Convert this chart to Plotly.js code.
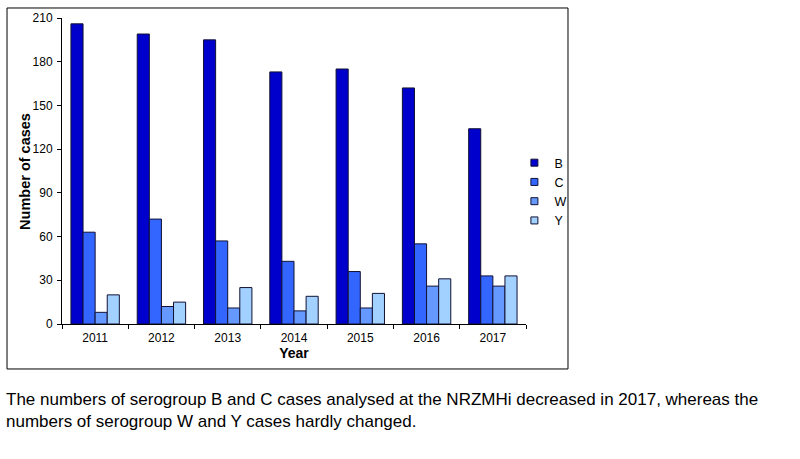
<!DOCTYPE html>
<html>
<head>
<meta charset="utf-8">
<script src="https://cdn.plot.ly/plotly-3.0.1.min.js"></script>
<style>html,body{margin:0;padding:0;background:#fff;}#chart{width:800px;height:459px;}</style>
</head>
<body>
<div id="chart"></div>
<script>
const years = ['2011','2012','2013','2014','2015','2016','2017'];
const serogroupB = [206, 199, 195, 173, 175, 162, 134];
const serogroupC = [63, 72, 57, 43, 36, 55, 33];
const serogroupW = [8, 12, 11, 9, 11, 26, 26];
const serogroupY = [20, 15, 25, 19, 21, 31, 33];
const seriesNames = ['B', 'C', 'W', 'Y'];
const seriesColors = ['#0000cc', '#3366ff', '#6699ff', '#a3d1ff'];
const yTicks = [0, 30, 60, 90, 120, 150, 180, 210];
const xTitle = 'Year';
const yTitle = 'Number of cases';
const captionText = 'The numbers of serogroup B and C cases analysed at the NRZMHi decreased in 2017, whereas the<br>numbers of serogroup W and Y cases hardly changed.';

const allSeries = [serogroupB, serogroupC, serogroupW, serogroupY];
const traces = allSeries.map((vals, i) => ({
  type: 'bar',
  name: seriesNames[i],
  x: years,
  y: vals,
  showlegend: false,
  marker: {color: seriesColors[i], line: {color: '#111133', width: 1}},
  hoverinfo: 'x+y+name'
}));
// legend-only entries with small square swatches
seriesNames.forEach((n, i) => {
  traces.push({
    type: 'scatter', mode: 'markers', name: n, x: [null], y: [null],
    marker: {symbol: 'square', size: 7, color: seriesColors[i], line: {color: '#111133', width: 1}},
    showlegend: true, hoverinfo: 'skip'
  });
});

const font = 'Arial, "Liberation Sans", sans-serif';
const layout = {
  width: 800, height: 459,
  margin: {l: 62, r: 274, t: 18, b: 135},
  paper_bgcolor: '#fff', plot_bgcolor: '#fff',
  barmode: 'group', bargap: 0.27, bargroupgap: 0,
  font: {family: font, size: 12, color: '#000'},
  showlegend: true,
  legend: {x: 0.975, y: 0.575, xanchor: 'left', yanchor: 'top', font: {size: 12.5, family: font}, tracegroupgap: 0, itemwidth: 30, bgcolor: 'rgba(0,0,0,0)'},
  xaxis: {
    type: 'category', showline: true, linecolor: '#000', linewidth: 1,
    ticks: 'outside', tickson: 'boundaries', ticklen: 4, tickcolor: '#000',
    showgrid: false, zeroline: false, ticklabelstandoff: 3,
    tickfont: {size: 12, family: font},
    title: {text: '<b>' + xTitle + '</b>', font: {size: 14, family: font}, standoff: 3}
  },
  yaxis: {
    range: [0, 210], tickvals: yTicks, showline: true, linecolor: '#000', linewidth: 1,
    ticks: 'outside', ticklen: 4, tickcolor: '#000', showgrid: false, zeroline: false,
    ticklabelstandoff: 2,
    tickfont: {size: 12, family: font}
  },
  shapes: [{
    type: 'rect', xref: 'paper', yref: 'paper',
    x0: -0.1185, x1: 1.0905, y0: -0.147, y1: 1.0327,
    line: {color: '#000', width: 1}, fillcolor: 'rgba(0,0,0,0)', layer: 'below'
  }],
  annotations: [{
    xref: 'paper', yref: 'paper', x: -0.0797, y: 0.497, xanchor: 'center', yanchor: 'middle',
    textangle: -90, showarrow: false, text: '<b>' + yTitle + '</b>',
    font: {size: 14.5, family: font, color: '#000'}
  }, {
    xref: 'paper', yref: 'paper', x: -0.126, y: -0.209, xanchor: 'left', yanchor: 'top',
    align: 'left', showarrow: false, text: captionText,
    font: {size: 17, family: font, color: '#000'}
  }]
};

Plotly.newPlot('chart', traces, layout, {displayModeBar: false, staticPlot: true});
</script>
</body>
</html>
